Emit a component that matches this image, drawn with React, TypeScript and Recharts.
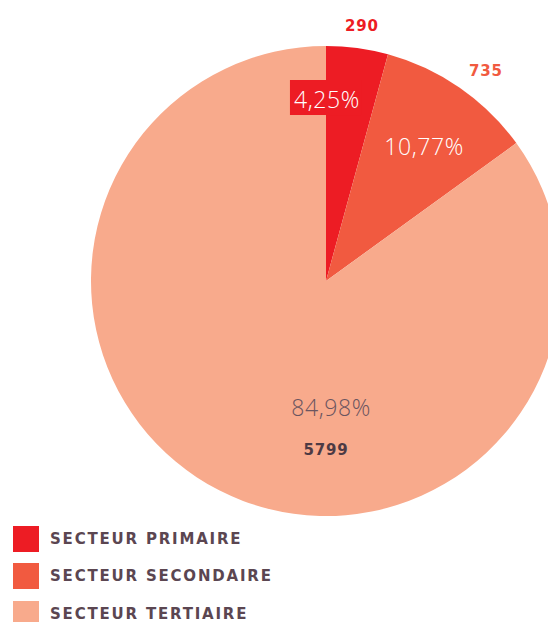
import { PieChart, Pie, Cell, Legend } from "recharts";

const sectors = ["SECTEUR PRIMAIRE", "SECTEUR SECONDAIRE", "SECTEUR TERTIAIRE"];
const counts = [290, 735, 5799];
const percentLabels = ["4,25%", "10,77%", "84,98%"];
const colors = ["#ed1c24", "#f15a40", "#f8aa8c"];

const data = sectors.map((name, i) => ({ name, value: counts[i] }));

// label placement, as angle (deg) / distance from centre
const pctPos = [
  { angle: 89.7, r: 182 },
  { angle: 54, r: 167 },
  { angle: -87.7, r: 126 },
];
const valPos = [
  { angle: 82, r: 258 },
  { angle: 52.7, r: 264 },
  { angle: -90, r: 169 },
];
const valColors = ["#ed1c24", "#f15a40", "#4d3a44"];
const pctColors = ["#ffffff", "#ffffff", "#6b5560"];

const RAD = Math.PI / 180;
const LIGHT = "'Open Sans', sans-serif";
const BOLD = "'DejaVu Sans', sans-serif";

const renderLabel = (props: any) => {
  const { cx, cy, index } = props;
  const p = pctPos[index];
  const v = valPos[index];
  const px = cx + p.r * Math.cos(p.angle * RAD);
  const py = cy - p.r * Math.sin(p.angle * RAD);
  const vx = cx + v.r * Math.cos(v.angle * RAD);
  const vy = cy - v.r * Math.sin(v.angle * RAD);
  return (
    <g key={"lbl-" + index}>
      {index === 0 && (
        <rect x={px - 37} y={py - 19} width={72} height={35} fill={colors[0]} />
      )}
      <text
        x={px}
        y={py}
        textAnchor="middle"
        dominantBaseline="central"
        fill={pctColors[index]}
        fontSize={23}
        fontWeight={300}
        fontFamily={LIGHT}
        letterSpacing={0.6}
      >
        {percentLabels[index]}
      </text>
      <text
        x={vx}
        y={vy}
        textAnchor="middle"
        dominantBaseline="central"
        fill={valColors[index]}
        fontSize={15}
        fontWeight={700}
        fontFamily={BOLD}
        letterSpacing={0.8}
      >
        {counts[index]}
      </text>
    </g>
  );
};

const renderLegend = () => (
  <div style={{ fontFamily: BOLD }}>
    {sectors.map((s, i) => (
      <div
        key={s}
        style={{ display: "flex", alignItems: "center", height: 37.6 }}
      >
        <div
          style={{ width: 26, height: 26, background: colors[i], marginRight: 11 }}
        />
        <span
          style={{
            fontSize: 15,
            fontWeight: 700,
            color: "#5b4651",
            letterSpacing: 1.8,
          }}
        >
          {s}
        </span>
      </div>
    ))}
  </div>
);

export default function App() {
  return (
    <div style={{ position: "absolute", left: 0, top: 0, background: "#fff" }}>
      <PieChart width={548} height={622} margin={{ top: 0, right: 0, bottom: 0, left: 0 }}>
        <Pie
          data={data}
          dataKey="value"
          nameKey="name"
          cx={326}
          cy={281}
          outerRadius={235}
          startAngle={90}
          endAngle={-270}
          stroke="none"
          label={renderLabel}
          labelLine={false}
          isAnimationActive={false}
        >
          {data.map((d, i) => (
            <Cell key={d.name} fill={colors[i]} />
          ))}
        </Pie>
        <Legend
          content={renderLegend}
          wrapperStyle={{ position: "absolute", left: 13, top: 520, width: 360 }}
        />
      </PieChart>
    </div>
  );
}
